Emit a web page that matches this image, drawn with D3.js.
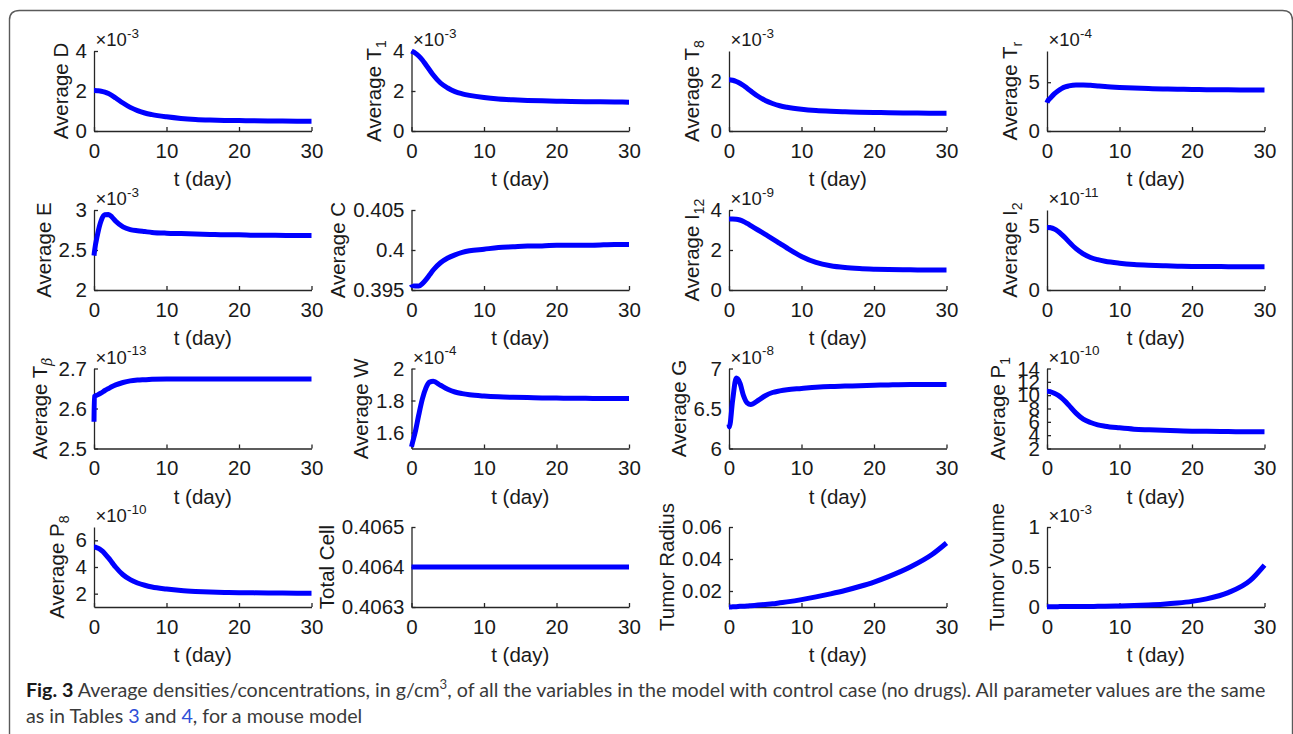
<!DOCTYPE html>
<html>
<head>
<meta charset="utf-8">
<script src="https://cdn.jsdelivr.net/npm/d3@7"></script>
<style>
  body { margin: 0; background: #fff; }
  svg { display: block; }
  .axis path, .axis line { stroke: #262626; stroke-width: 1.3; }
  .axis text { fill: #1a1a1a; font-family: "Liberation Sans", Arial, Helvetica, sans-serif; font-size: 20.5px; }
  .lbl { fill: #1a1a1a; font-family: "Liberation Sans", Arial, Helvetica, sans-serif; }
</style>
</head>
<body>
<svg id="fig" width="1293" height="734"></svg>
<script>
// Simulation time grid (days) shared by every panel
const days = [0, 0.05, 0.5, 1, 1.5, 2, 2.5, 3, 4, 5, 6, 7, 8, 10, 12, 14, 16, 18, 20, 22, 25, 28, 30];
const xTicks = [0, 10, 20, 30];

// Averaged model variables (values in the units shown by each axis multiplier)
const avgD   = [2.02, 2.02, 2.01, 1.99, 1.94, 1.87, 1.77, 1.65, 1.40, 1.18, 1.02, 0.90, 0.82, 0.71, 0.63, 0.58, 0.55, 0.53, 0.52, 0.51, 0.50, 0.49, 0.49];
const avgT1  = [4.00, 3.99, 3.90, 3.75, 3.55, 3.30, 3.05, 2.80, 2.40, 2.15, 1.97, 1.86, 1.78, 1.67, 1.60, 1.56, 1.53, 1.51, 1.49, 1.47, 1.46, 1.45, 1.44];
const avgT8  = [2.05, 2.05, 2.03, 1.98, 1.91, 1.82, 1.71, 1.60, 1.39, 1.22, 1.10, 1.01, 0.95, 0.87, 0.82, 0.79, 0.77, 0.75, 0.74, 0.73, 0.72, 0.71, 0.71];
const avgTr  = [2.90, 3.00, 3.40, 3.80, 4.10, 4.35, 4.52, 4.62, 4.72, 4.72, 4.68, 4.62, 4.56, 4.47, 4.40, 4.35, 4.31, 4.28, 4.26, 4.24, 4.22, 4.21, 4.20];
const avgE   = [2.43, 2.47, 2.70, 2.87, 2.94, 2.945, 2.91, 2.86, 2.79, 2.755, 2.74, 2.73, 2.72, 2.71, 2.705, 2.70, 2.695, 2.69, 2.69, 2.685, 2.685, 2.68, 2.68];
const avgC   = [0.3957, 0.3956, 0.3955, 0.3955, 0.3958, 0.3963, 0.3969, 0.3975, 0.3984, 0.3990, 0.3994, 0.3997, 0.3999, 0.4001, 0.4003, 0.4004, 0.4005, 0.4005, 0.4006, 0.4006, 0.4006, 0.4007, 0.4007];
const avgI12 = [3.55, 3.55, 3.55, 3.54, 3.50, 3.43, 3.33, 3.22, 3.00, 2.78, 2.56, 2.33, 2.10, 1.68, 1.38, 1.21, 1.12, 1.07, 1.04, 1.02, 1.01, 1.00, 1.00];
const avgI2  = [4.85, 4.85, 4.82, 4.72, 4.55, 4.32, 4.05, 3.75, 3.20, 2.80, 2.52, 2.35, 2.23, 2.08, 1.98, 1.92, 1.88, 1.85, 1.83, 1.82, 1.81, 1.80, 1.80];
const avgTb  = [2.567, 2.630, 2.634, 2.639, 2.645, 2.650, 2.655, 2.659, 2.665, 2.669, 2.671, 2.672, 2.673, 2.674, 2.674, 2.674, 2.674, 2.674, 2.674, 2.674, 2.674, 2.674, 2.674];
const avgW   = [1.51, 1.52, 1.60, 1.71, 1.81, 1.88, 1.915, 1.92, 1.895, 1.87, 1.853, 1.843, 1.836, 1.828, 1.823, 1.820, 1.818, 1.816, 1.815, 1.814, 1.813, 1.812, 1.812];
const avgG   = [6.30, 6.27, 6.60, 6.88, 6.82, 6.66, 6.57, 6.55, 6.60, 6.66, 6.70, 6.72, 6.735, 6.75, 6.765, 6.775, 6.78, 6.785, 6.79, 6.795, 6.80, 6.80, 6.80];
const avgP1  = [10.6, 10.6, 10.5, 10.3, 10.0, 9.6, 9.1, 8.5, 7.3, 6.4, 5.9, 5.55, 5.35, 5.10, 4.90, 4.80, 4.72, 4.66, 4.60, 4.57, 4.54, 4.51, 4.50];
const avgP8  = [5.50, 5.50, 5.42, 5.25, 5.00, 4.68, 4.33, 3.98, 3.42, 3.05, 2.80, 2.63, 2.50, 2.35, 2.24, 2.17, 2.12, 2.09, 2.07, 2.06, 2.05, 2.04, 2.04];
const totalCell = [0.4064, 0.4064, 0.4064, 0.4064, 0.4064, 0.4064, 0.4064, 0.4064, 0.4064, 0.4064, 0.4064, 0.4064, 0.4064, 0.4064, 0.4064, 0.4064, 0.4064, 0.4064, 0.4064, 0.4064, 0.4064, 0.4064, 0.4064];
const tumorRadius = [0.0100, 0.0100, 0.0101, 0.0102, 0.0104, 0.0105, 0.0106, 0.0108, 0.0112, 0.0116, 0.0120, 0.0126, 0.0132, 0.0146, 0.0163, 0.0182, 0.0203, 0.0228, 0.0256, 0.0290, 0.0350, 0.0428, 0.0500];
const tumorVolume = [0.0042, 0.0042, 0.0043, 0.0044, 0.0046, 0.0048, 0.0050, 0.0053, 0.0059, 0.0065, 0.0072, 0.0084, 0.0096, 0.0130, 0.0181, 0.0253, 0.0350, 0.0496, 0.0703, 0.1020, 0.1800, 0.3284, 0.5236];

// Panel definitions: y label (main text + subscript), series, y range, y ticks, power-of-ten multiplier
const panels = [
  { name: ["Average D", ""],   values: avgD,   yDomain: [0, 4],     yTicks: [0, 2, 4],       exp: "-3" },
  { name: ["Average T", "1"],  values: avgT1,  yDomain: [0, 4],     yTicks: [0, 2, 4],       exp: "-3" },
  { name: ["Average T", "8"],  values: avgT8,  yDomain: [0, 3.2],   yTicks: [0, 2],          exp: "-3" },
  { name: ["Average T", "r"],  values: avgTr,  yDomain: [0, 8.2],   yTicks: [0, 5],          exp: "-4" },
  { name: ["Average E", ""],   values: avgE,   yDomain: [2, 3],     yTicks: [2, 2.5, 3],     exp: "-3" },
  { name: ["Average C", ""],   values: avgC,   yDomain: [0.395, 0.405], yTicks: [0.395, 0.4, 0.405], exp: null },
  { name: ["Average I", "12"], values: avgI12, yDomain: [0, 4],     yTicks: [0, 2, 4],       exp: "-9" },
  { name: ["Average I", "2"],  values: avgI2,  yDomain: [0, 6.2],   yTicks: [0, 5],          exp: "-11" },
  { name: ["Average T", "β"],  values: avgTb,  yDomain: [2.5, 2.7], yTicks: [2.5, 2.6, 2.7], exp: "-13", italicSub: true },
  { name: ["Average W", ""],   values: avgW,   yDomain: [1.5, 2],   yTicks: [1.6, 1.8, 2],   exp: "-4" },
  { name: ["Average G", ""],   values: avgG,   yDomain: [6, 7],     yTicks: [6, 6.5, 7],     exp: "-8" },
  { name: ["Average P", "1"],  values: avgP1,  yDomain: [2, 14],    yTicks: [2, 4, 6, 8, 10, 12, 14], exp: "-10" },
  { name: ["Average P", "8"],  values: avgP8,  yDomain: [1, 7],     yTicks: [2, 4, 6],       exp: "-10" },
  { name: ["Total Cell", ""],  values: totalCell, yDomain: [0.4063, 0.4065], yTicks: [0.4063, 0.4064, 0.4065], exp: null },
  { name: ["Tumor Radius", ""], values: tumorRadius, yDomain: [0.01, 0.06], yTicks: [0.02, 0.04, 0.06], exp: null },
  { name: ["Tumor Voume", ""], values: tumorVolume, yDomain: [0, 1], yTicks: [0, 0.5, 1], exp: "-3" }
];

// Grid geometry
const colLeft = [94, 411.5, 729, 1047];
const rowTop = [51, 210, 368.5, 527];
const plotW = 217.5, plotH = 80;

const svg = d3.select("#fig");

// Figure frame with rounded top corners
svg.append("path")
  .attr("d", "M9.5,745 V20 Q9.5,10.5 19.5,10.5 H1282.5 Q1292.5,10.5 1292.5,20.5 V745")
  .attr("fill", "none").attr("stroke", "#5a5a5a").attr("stroke-width", 1.4);

panels.forEach((p, i) => {
  const col = i % 4, row = Math.floor(i / 4);
  const g = svg.append("g").attr("transform", `translate(${colLeft[col]},${rowTop[row]})`);

  const x = d3.scaleLinear().domain([0, 30]).range([0, plotW]);
  const y = d3.scaleLinear().domain(p.yDomain).range([plotH, 0]);

  const line = d3.line()
    .x((d, k) => x(days[k]))
    .y(d => y(d))
    .curve(d3.curveMonotoneX);

  // x axis (ticks point inward)
  const xg = g.append("g").attr("class", "axis")
    .attr("transform", `translate(0,${plotH})`)
    .call(d3.axisBottom(x).tickValues(xTicks).tickSizeInner(-4).tickSizeOuter(0).tickPadding(12).tickFormat(d3.format("d")));
  xg.attr("font-size", null).attr("font-family", null);

  // y axis
  const yg = g.append("g").attr("class", "axis")
    .call(d3.axisLeft(y).tickValues(p.yTicks).tickSizeInner(-4).tickSizeOuter(0).tickPadding(7).tickFormat(v => String(v)));
  yg.attr("font-size", null).attr("font-family", null);

  // data line
  g.append("path")
    .datum(p.values)
    .attr("d", line)
    .attr("fill", "none")
    .attr("stroke", "#0000ff")
    .attr("stroke-width", 5)
    .attr("stroke-linejoin", "round")
    .attr("stroke-linecap", "butt");

  // x label
  g.append("text").attr("class", "lbl")
    .attr("x", plotW / 2).attr("y", plotH + 55)
    .attr("text-anchor", "middle").attr("font-size", 20.5)
    .text("t (day)");

  // power-of-ten multiplier above the y axis
  if (p.exp) {
    const m = g.append("text").attr("class", "lbl").attr("x", 1.5).attr("y", -5).attr("font-size", 18.5);
    m.append("tspan").text("×10");
    m.append("tspan").attr("font-size", 13.5).attr("dy", -8.5).text(p.exp);
  }

  // y label, rotated, placed left of the tick labels
  const tickLeft = yg.node().getBBox().x;
  const yl = g.append("text").attr("class", "lbl").attr("font-size", 20.5);
  yl.append("tspan").text(p.name[0]);
  if (p.name[1]) {
    yl.append("tspan")
      .attr("font-size", 14)
      .attr("dy", 5)
      .attr("font-style", p.italicSub ? "italic" : null)
      .attr("font-family", p.italicSub ? "'DejaVu Serif', serif" : null)
      .text(p.name[1]);
  }
  const bb = yl.node().getBBox();
  const tx = tickLeft - 4 - (bb.y + bb.height);
  const ty = plotH / 2 + bb.x + bb.width / 2;
  yl.attr("transform", `translate(${tx},${ty}) rotate(-90)`);
});

// Caption
const cap = svg.append("g");
const capFont = "Lato, 'Open Sans', 'Noto Sans', sans-serif";
const l1 = cap.append("text").attr("x", 26).attr("y", 697)
  .attr("font-family", capFont).attr("font-size", 19.5).attr("fill", "#3a3a3a");
l1.append("tspan").attr("font-weight", "bold").attr("fill", "#1a1a1a").text("Fig. 3");
l1.append("tspan").text(" Average densities/concentrations, in g/cm");
l1.append("tspan").attr("font-size", 13).attr("dy", -7.5).text("3");
l1.append("tspan").attr("dy", 7.5).text(", of all the variables in the model with control case (no drugs). All parameter values are the same");

const l2 = cap.append("text").attr("x", 26).attr("y", 723)
  .attr("font-family", capFont).attr("font-size", 19.5).attr("fill", "#3a3a3a");
l2.append("tspan").text("as in Tables ");
l2.append("tspan").attr("fill", "#2f4fd8").text("3");
l2.append("tspan").text(" and ");
l2.append("tspan").attr("fill", "#2f4fd8").text("4");
l2.append("tspan").text(", for a mouse model");

const natural = l1.node().getComputedTextLength();
const k = 1240 / natural;
cap.attr("transform", `translate(${26 * (1 - k)},0) scale(${k},1)`);
</script>
</body>
</html>
